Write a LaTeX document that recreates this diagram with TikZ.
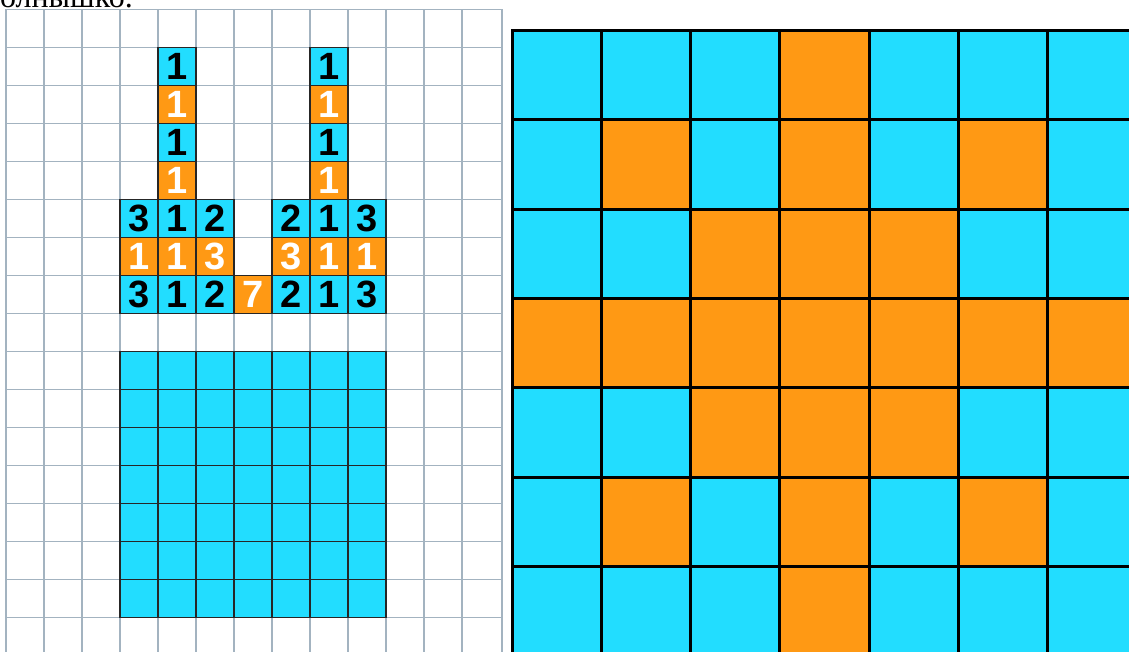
\documentclass[tikz,border=0pt]{standalone}
\usepackage{fontspec}
\setmainfont{Liberation Serif}
\newfontfamily\numfont{Liberation Sans}
\definecolor{cy}{HTML}{22DDFF}
\definecolor{orng}{HTML}{FF9914}
\definecolor{gl}{HTML}{A3B3C0}
\begin{document}
\begin{tikzpicture}[x=1pt,y=-1pt,
  bc/.style={draw=black!85,line width=1.4pt,fill=cy,minimum size=38pt,inner sep=0pt,
    font=\numfont\bfseries\fontsize{38}{38}\selectfont,text=black},
  oc/.style={bc,fill=orng,text=white},
  rb/.style={draw=black,line width=3pt,fill=cy,minimum size=89.3pt,inner sep=0pt},
  ro/.style={rb,fill=orng},
  gridline/.style={draw=gl,line width=1.3pt}]
\useasboundingbox (0,0) rectangle (1129,652);
\clip (0,0) rectangle (1129,652);
% title (cut off at top, as in the reference)
\node[anchor=base east,inner sep=0pt,font=\fontsize{32}{38}\selectfont] (title) at (133,8) {солнышко.};
% squared paper
\foreach \k in {0,...,12} \draw[gridline] (6+38*\k,9.5) -- (6+38*\k,652);
\draw[gridline] (502,9.5) -- (502,652);
\foreach \k in {0,...,16} \draw[gridline] (6,9.5+38*\k) -- (502,9.5+38*\k);
% columns
\foreach \x in {177,329}{
  \node[bc] (a\x) at (\x,66.5) {1};
  \node[oc] (b\x) at (\x,104.5) {1};
  \node[bc] (c\x) at (\x,142.5) {1};
  \node[oc] (d\x) at (\x,180.5) {1};
}
% row 5
\node[bc] (r5c3) at (139,218.5) {3};
\node[bc] (r5c4) at (177,218.5) {1};
\node[bc] (r5c5) at (215,218.5) {2};
\node[bc] (r5c7) at (291,218.5) {2};
\node[bc] (r5c8) at (329,218.5) {1};
\node[bc] (r5c9) at (367,218.5) {3};
% row 6
\node[oc] (r6c3) at (139,256.5) {1};
\node[oc] (r6c4) at (177,256.5) {1};
\node[oc] (r6c5) at (215,256.5) {3};
\node[oc] (r6c7) at (291,256.5) {3};
\node[oc] (r6c8) at (329,256.5) {1};
\node[oc] (r6c9) at (367,256.5) {1};
% row 7
\node[bc] (r7c3) at (139,294.5) {3};
\node[bc] (r7c4) at (177,294.5) {1};
\node[bc] (r7c5) at (215,294.5) {2};
\node[oc] (r7c6) at (253,294.5) {7};
\node[bc] (r7c7) at (291,294.5) {2};
\node[bc] (r7c8) at (329,294.5) {1};
\node[bc] (r7c9) at (367,294.5) {3};
% bottom square
\foreach \r in {9,...,15}
  \foreach \c in {3,...,9}
    \node[bc] (sq-\r-\c) at (25+38*\c,28.5+38*\r) {};
% right panel
\foreach \r in {0,...,6}
  \foreach \c in {0,...,6}
    \node[rb] (p-\r-\c) at (512+89.3*\c+44.65,30.5+89.3*\r+44.65) {};
\foreach \c/\r in {3/0,1/1,3/1,5/1,2/2,3/2,4/2,0/3,1/3,2/3,3/3,4/3,5/3,6/3,2/4,3/4,4/4,1/5,3/5,5/5,3/6}
  \node[ro] (q-\r-\c) at (512+89.3*\c+44.65,30.5+89.3*\r+44.65) {};
\end{tikzpicture}
\end{document}
